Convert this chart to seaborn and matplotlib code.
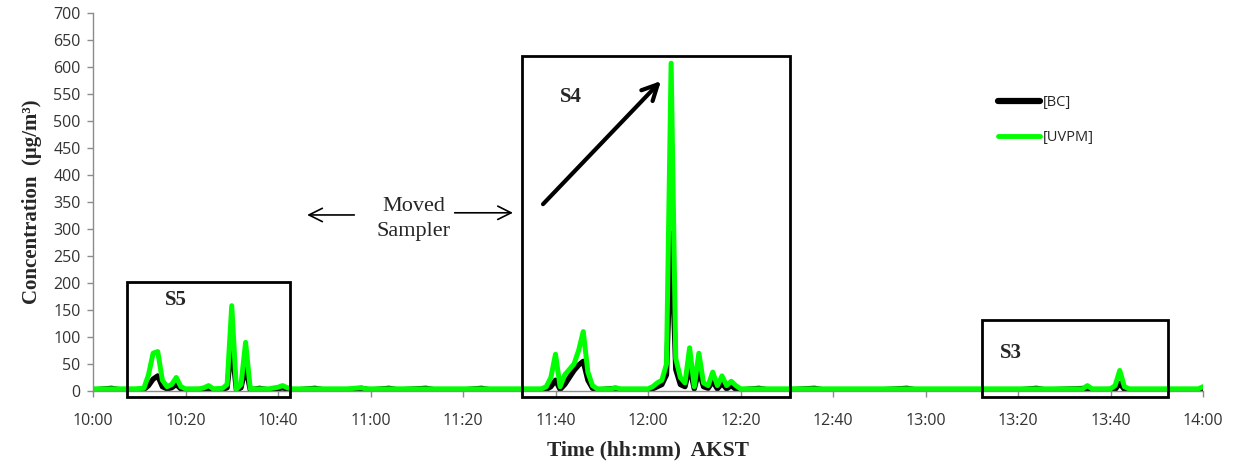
import matplotlib
matplotlib.use("Agg")
import matplotlib.pyplot as plt
import matplotlib.patches as mpatches
from matplotlib.lines import Line2D
import seaborn as sns
import pandas as pd

# ---- data (minutes after 10:00 AKST) ----
uvpm_time = [0, 3, 6, 9, 11, 12, 13, 14, 15, 16, 17, 18, 19, 20, 23, 24, 25, 26, 28, 29,
             30, 31, 32, 33, 34, 35, 38, 40, 41, 42, 43, 46, 50, 55, 58, 59, 60, 65, 70,
             75, 80, 85, 90, 95, 97, 98, 99, 100, 101, 102, 103, 104, 105, 106, 107, 108,
             109, 112, 113, 114, 115, 118, 120, 121, 122, 123, 124, 125, 126, 127, 128,
             129, 130, 131, 132, 133, 134, 135, 136, 137, 138, 139, 140, 143, 146, 150,
             155, 160, 170, 180, 190, 200, 210, 214, 215, 216, 219, 220, 221, 222, 223,
             224, 230, 235, 239, 240]
uvpm_vals = [4, 4, 4, 4, 5, 30, 70, 73, 20, 8, 12, 25, 8, 4, 4, 6, 10, 4, 5, 12,
             158, 3, 12, 90, 4, 4, 4, 7, 10, 6, 4, 4, 4, 4, 6, 4, 4, 4, 4,
             4, 4, 4, 4, 4, 4, 8, 25, 68, 8, 30, 40, 50, 75, 110, 35, 10,
             4, 4, 6, 4, 4, 4, 4, 8, 15, 20, 50, 607, 60, 25, 15,
             80, 8, 70, 15, 10, 35, 10, 28, 10, 18, 10, 4, 4, 4, 4,
             4, 4, 4, 4, 4, 4, 4, 4, 10, 4, 4, 4, 10, 38, 8,
             4, 4, 4, 4, 8]

bc_time = [0, 4, 6, 9, 11, 12, 13, 14, 15, 16, 17, 18, 19, 20, 24, 25, 26, 28, 29, 30,
           31, 32, 33, 34, 36, 38, 40, 41, 42, 44, 48, 50, 55, 58, 60, 64, 66, 72, 74,
           80, 84, 86, 92, 95, 98, 99, 100, 101, 102, 103, 104, 105, 106, 107, 108, 109,
           113, 114, 120, 121, 122, 123, 124, 125, 126, 127, 128, 129, 130, 131, 132,
           133, 134, 135, 136, 137, 138, 139, 140, 144, 146, 150, 156, 158, 170, 176,
           178, 190, 200, 204, 206, 215, 216, 221, 222, 223, 224, 230, 240]
bc_vals = [2, 5, 2, 2, 3, 10, 22, 28, 8, 4, 6, 12, 4, 2, 3, 5, 2, 3, 6, 85,
           2, 6, 45, 2, 5, 2, 4, 6, 3, 2, 5, 2, 2, 5, 2, 5, 2, 5, 2,
           2, 5, 2, 2, 2, 3, 8, 20, 3, 12, 25, 38, 48, 55, 20, 5, 2,
           5, 2, 2, 4, 8, 12, 30, 292, 40, 12, 8, 45, 4, 38, 8,
           5, 18, 4, 14, 4, 10, 3, 2, 5, 2, 2, 5, 2, 2, 5,
           2, 2, 2, 5, 2, 5, 2, 3, 14, 3, 2, 2, 2]

tick_minutes = list(range(0, 241, 20))
tick_labels = ["10:00", "10:20", "10:40", "11:00", "11:20", "11:40", "12:00",
               "12:20", "12:40", "13:00", "13:20", "13:40", "14:00"]
y_ticks = list(range(0, 701, 50))

df_bc = pd.DataFrame({"t": bc_time, "c": bc_vals})
df_uv = pd.DataFrame({"t": uvpm_time, "c": uvpm_vals})

# ---- figure ----
sns.set_style("white")
plt.rcParams["font.family"] = ["Open Sans", "DejaVu Sans"]
fig = plt.figure(figsize=(12.38, 4.66), dpi=100)
ax = fig.add_axes([93 / 1238, 1 - 391 / 466, (1203 - 93) / 1238, (391 - 13) / 466])

sns.lineplot(data=df_bc, x="t", y="c", ax=ax, color="black", lw=3.8, estimator=None)
sns.lineplot(data=df_uv, x="t", y="c", ax=ax, color="#00ff00", lw=3.6, estimator=None)

ax.set_xlim(0, 240)
ax.set_ylim(0, 700)
ax.set_xticks(tick_minutes)
ax.set_xticklabels(tick_labels)
ax.set_yticks(y_ticks)
ax.tick_params(axis="both", labelsize=11.5, colors="#333333", length=4, width=1,
               direction="out", bottom=True, left=True)
ax.tick_params(axis="x", pad=12)
ax.tick_params(axis="y", pad=5)
for s in ["top", "right"]:
    ax.spines[s].set_visible(False)
for s in ["left", "bottom"]:
    ax.spines[s].set_color("#8c8c8c")
    ax.spines[s].set_linewidth(1)
ax.tick_params(axis="both", color="#8c8c8c")

serif = ["Liberation Serif", "DejaVu Serif"]
ax.set_xlabel("Time (hh:mm)  AKST", family=serif, fontweight="bold", fontsize=15.5,
              labelpad=8)
ax.set_ylabel("Concentration  (μg/m³)", family=serif, fontweight="bold", fontsize=15,
              labelpad=8)

# boxes
boxes = [(7.35, -11, 42.6 - 7.35, 202 + 11), (92.8, -11, 150.7 - 92.8, 620 + 11),
         (192.2, -11, 232.4 - 192.2, 131 + 11)]
for (x0, y0, w, h) in boxes:
    ax.add_patch(mpatches.Rectangle((x0, y0), w, h, fill=False, ec="black", lw=2,
                                    clip_on=False, zorder=5))

ax.text(15.5, 168, "S5", family=serif, fontweight="bold", fontsize=15, va="center")
ax.text(101, 544, "S4", family=serif, fontweight="bold", fontsize=15, va="center")
ax.text(196, 70, "S3", family=serif, fontweight="bold", fontsize=15, va="center")

# big arrow in S4
ax.annotate("", xy=(122.8, 574), xytext=(97.3, 346),
            arrowprops=dict(arrowstyle="->", lw=3, color="black", mutation_scale=28,
                            shrinkA=0, shrinkB=0))

# moved sampler
ax.text(69.3, 318, "Moved\nSampler", family=serif, fontsize=16, ha="center",
        va="center", linespacing=1.45)
ax.annotate("", xy=(46.3, 326), xytext=(56.5, 326),
            arrowprops=dict(arrowstyle="->", lw=1.2, color="black", mutation_scale=24,
                            shrinkA=0, shrinkB=0))
ax.annotate("", xy=(90.8, 330), xytext=(78.2, 330),
            arrowprops=dict(arrowstyle="->", lw=1.2, color="black", mutation_scale=24,
                            shrinkA=0, shrinkB=0))

handles = [Line2D([], [], color="black", lw=4.5, solid_capstyle="round"),
           Line2D([], [], color="#00ff00", lw=3.5)]
leg = ax.legend(handles, ["[BC]", "[UVPM]"], frameon=False, fontsize=10.5,
                loc="upper left", bbox_to_anchor=(985 / 1238, 1 - 82 / 466),
                bbox_transform=fig.transFigure, handlelength=2.9, handletextpad=0.2,
                labelspacing=1.35)

fig.savefig("out.png", dpi=100)
